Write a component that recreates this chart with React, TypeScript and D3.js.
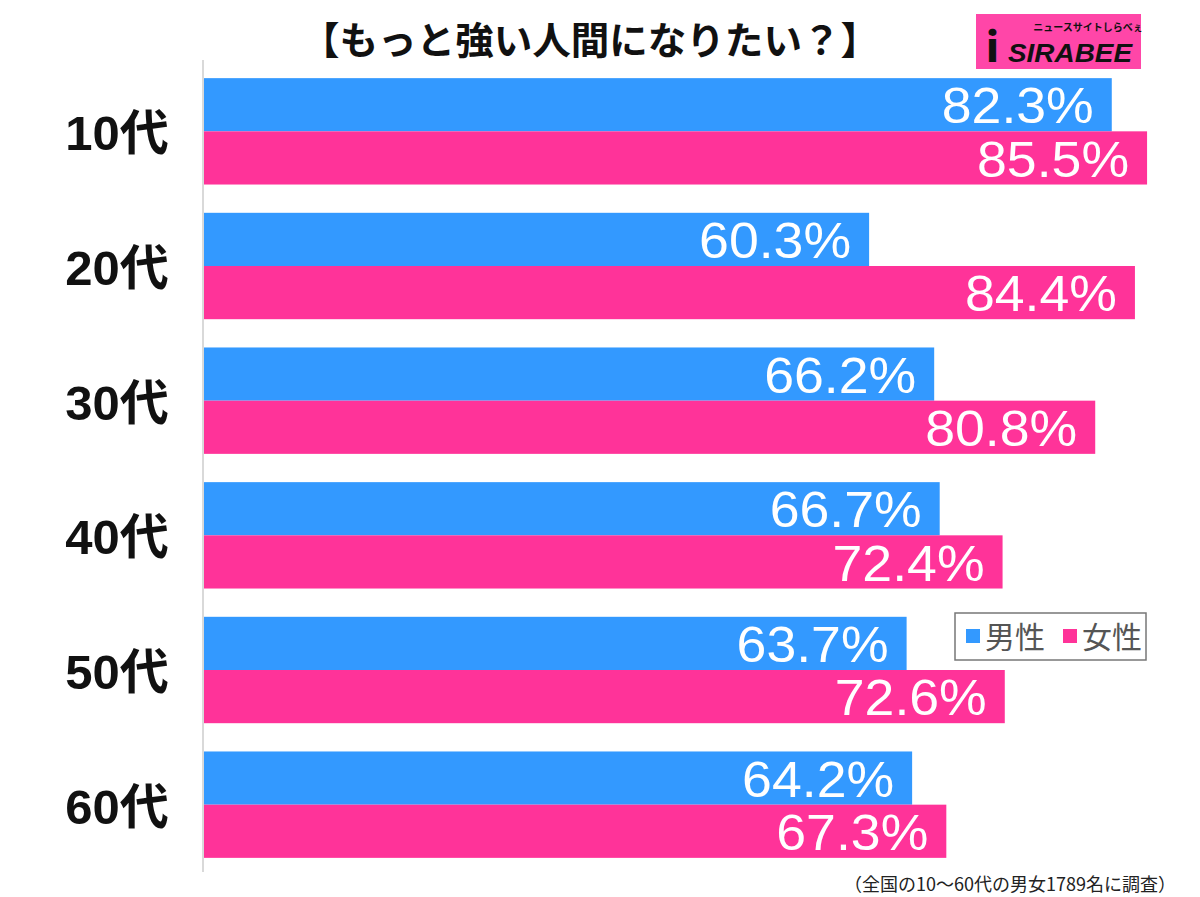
import React from "react";
import * as d3 from "d3";

const categories = ["10代", "20代", "30代", "40代", "50代", "60代"];
const male = [82.3, 60.3, 66.2, 66.7, 63.7, 64.2];
const female = [85.5, 84.4, 80.8, 72.4, 72.6, 67.3];
const seriesNames = ["男性", "女性"];
const title = "【もっと強い人間になりたい？】";
const footnote = "（全国の10～60代の男女1789名に調査）";

const W = 1200;
const H = 897;
const BLUE = "#3399ff";
const PINK = "#ff3399";
const FONT = "'Noto Sans CJK JP', 'Noto Sans', sans-serif";
const NUMFONT = "'Liberation Sans', Arial, 'Noto Sans CJK JP', sans-serif";

export default function App() {
  const x = d3.scaleLinear().domain([0, 100]).range([204, 1307]);
  const y = d3.scaleBand().domain(categories).range([64, 872]).paddingInner(0.21).paddingOuter(0.105);
  const inner = d3.scaleBand().domain(seriesNames).range([0, y.bandwidth()]).padding(0);
  const vals = [male, female];
  const colors = [BLUE, PINK];

  return (
    <svg width={W} height={H} style={{ position: "absolute", left: 0, top: 0, background: "#fff" }}>
      <rect width={W} height={H} fill="#fff" />
      <text x={590} y={54} textAnchor="middle" fontFamily={FONT} fontWeight="bold" fontSize={38} fill="#111" textLength={578} lengthAdjust="spacingAndGlyphs">
        {title}
      </text>
      {/* logo */}
      <g>
        <rect x={976} y={14} width={165} height={55} fill="#ff46a8" />
        <text x={1088} y={31} textAnchor="middle" fontFamily={FONT} fontSize={10} fontWeight="bold" fill="#111">
          ニュースサイトしらべぇ
        </text>
        <text x={1008} y={62} fontFamily={NUMFONT} fontSize={26} fontWeight="900" fontStyle="italic" fill="#111" textLength={124} lengthAdjust="spacingAndGlyphs">
          SIRABEE
        </text>
        <text x={986} y={62} fontFamily={FONT} fontSize={40} fontWeight="900" fill="#111">
          i
        </text>
      </g>
      <line x1={203} x2={203} y1={60} y2={872} stroke="#ccc" strokeWidth={1.5} />
      {categories.map((c, i) => (
        <g key={c}>
          <text x={117} y={(y(c) as number) + y.bandwidth() / 2 + 19} textAnchor="middle" fontFamily={NUMFONT} fontWeight="bold" fontSize={49} fill="#111">
            {c}
          </text>
          {seriesNames.map((s, j) => {
            const v = vals[j][i];
            const by = (y(c) as number) + (inner(s) as number);
            return (
              <g key={s}>
                <rect x={x(0)} y={by} width={x(v) - x(0)} height={inner.bandwidth()} fill={colors[j]} />
                <text x={x(v) - 18} y={by + inner.bandwidth() - 8} textAnchor="end" fontFamily={NUMFONT} fontSize={50} fill="#fff" textLength={152} lengthAdjust="spacingAndGlyphs">
                  {v.toFixed(1)}%
                </text>
              </g>
            );
          })}
        </g>
      ))}
      {/* legend */}
      <g>
        <rect x={955} y={613} width={191} height={47} fill="#fff" stroke="#777" strokeWidth={1.5} />
        <rect x={966} y={629} width={14} height={14} fill={BLUE} />
        <text x={985} y={648} fontFamily={FONT} fontSize={30} fill="#555">{seriesNames[0]}</text>
        <rect x={1063} y={629} width={14} height={14} fill={PINK} />
        <text x={1082} y={648} fontFamily={FONT} fontSize={30} fill="#555">{seriesNames[1]}</text>
      </g>
      <text x={1176} y={891} textAnchor="end" fontFamily={FONT} fontSize={18} fill="#222">
        {footnote}
      </text>
    </svg>
  );
}
